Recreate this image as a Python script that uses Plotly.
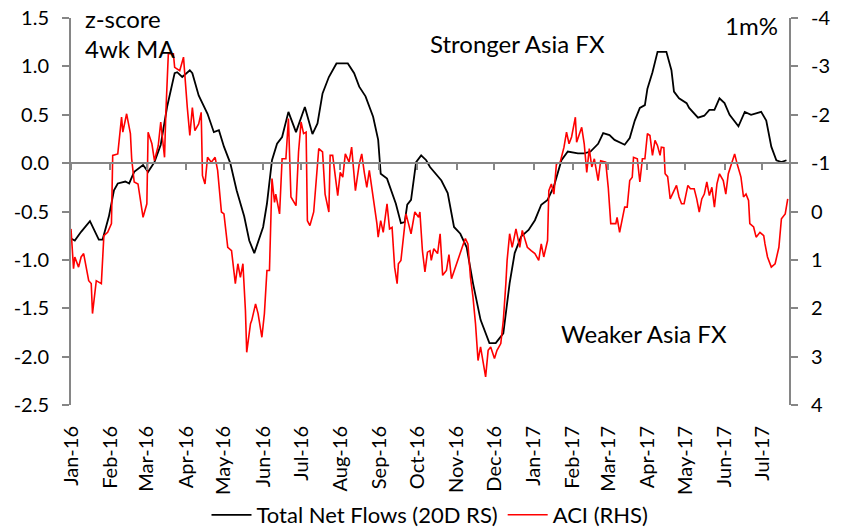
import plotly.graph_objects as go

# ---- Total Net Flows (20D RS), z-score 4wk MA (left axis) ----
flow_dates = [
    "2016-01-01", "2016-01-04", "2016-01-09", "2016-01-16", "2016-01-23", "2016-01-26",
    "2016-01-31", "2016-02-04", "2016-02-07", "2016-02-13", "2016-02-16", "2016-02-20",
    "2016-02-27", "2016-03-02", "2016-03-07", "2016-03-12", "2016-03-17", "2016-03-23",
    "2016-03-25", "2016-03-29", "2016-04-04", "2016-04-06", "2016-04-11", "2016-04-18",
    "2016-04-23", "2016-04-27", "2016-05-01", "2016-05-06", "2016-05-11", "2016-05-17",
    "2016-05-21", "2016-05-25", "2016-06-01", "2016-06-04", "2016-06-08", "2016-06-12",
    "2016-06-16", "2016-06-21", "2016-06-27", "2016-07-04", "2016-07-10", "2016-07-14",
    "2016-07-18", "2016-07-23", "2016-07-29", "2016-08-07", "2016-08-12", "2016-08-16",
    "2016-08-21", "2016-08-27", "2016-08-31", "2016-09-02", "2016-09-07", "2016-09-14",
    "2016-09-18", "2016-09-21", "2016-09-23", "2016-09-26", "2016-09-30", "2016-10-04",
    "2016-10-08", "2016-10-11", "2016-10-20", "2016-10-25", "2016-10-30", "2016-11-04",
    "2016-11-09", "2016-11-14", "2016-11-20", "2016-11-27", "2016-12-02", "2016-12-08",
    "2016-12-13", "2016-12-17", "2016-12-22", "2016-12-28", "2017-01-02", "2017-01-07",
    "2017-01-12", "2017-01-17", "2017-01-23", "2017-01-28", "2017-02-05", "2017-02-10",
    "2017-02-15", "2017-02-21", "2017-02-25", "2017-03-02", "2017-03-06", "2017-03-14",
    "2017-03-18", "2017-03-22", "2017-03-26", "2017-03-30", "2017-04-01", "2017-04-05",
    "2017-04-09", "2017-04-16", "2017-04-20", "2017-04-22", "2017-04-26", "2017-05-02",
    "2017-05-04", "2017-05-11", "2017-05-16", "2017-05-20", "2017-05-24", "2017-05-28",
    "2017-06-01", "2017-06-05", "2017-06-12", "2017-06-17", "2017-06-22", "2017-06-30",
    "2017-07-04", "2017-07-08", "2017-07-12", "2017-07-16", "2017-07-20",
]
flow_values = [
    -0.78, -0.80, -0.71, -0.60, -0.79, -0.79,
    -0.55, -0.28, -0.21, -0.19, -0.21, -0.09,
    -0.02, -0.09, 0.01, 0.19, 0.58, 0.93,
    0.94, 0.89, 0.96, 0.93, 0.70, 0.51,
    0.32, 0.34, 0.17, 0.00, -0.28, -0.55,
    -0.80, -0.93, -0.66, -0.42, 0.03, 0.20,
    0.27, 0.53, 0.32, 0.58, 0.30, 0.41,
    0.72, 0.89, 1.03, 1.03, 0.93, 0.79,
    0.69, 0.48, 0.24, -0.11, -0.16, -0.42,
    -0.62, -0.61, -0.43, -0.38, 0.01, 0.08,
    0.03, -0.04, -0.18, -0.31, -0.66, -0.73,
    -0.87, -1.24, -1.62, -1.86, -1.86, -1.76,
    -1.24, -0.93, -0.76, -0.69, -0.59, -0.43,
    -0.38, -0.24, 0.03, 0.12, 0.10, 0.10,
    0.12, 0.20, 0.31, 0.29, 0.24, 0.19,
    0.26, 0.44, 0.57, 0.60, 0.77, 0.94,
    1.15, 1.15, 0.96, 0.74, 0.67, 0.62,
    0.57, 0.47, 0.49, 0.55, 0.55, 0.67,
    0.62, 0.50, 0.38, 0.53, 0.50, 0.53,
    0.44, 0.17, 0.03, 0.01, 0.03,
]

# ---- ACI (RHS), 1m% (right axis, reversed) ----
aci_dates = [
    "2016-01-01", "2016-01-03", "2016-01-04", "2016-01-07", "2016-01-09", "2016-01-11",
    "2016-01-15", "2016-01-17", "2016-01-18", "2016-01-21", "2016-01-25", "2016-01-27",
    "2016-01-30", "2016-02-02", "2016-02-03", "2016-02-07", "2016-02-10", "2016-02-11",
    "2016-02-14", "2016-02-17", "2016-02-18", "2016-02-20", "2016-02-23", "2016-02-27",
    "2016-03-01", "2016-03-02", "2016-03-05", "2016-03-07", "2016-03-10", "2016-03-12",
    "2016-03-15", "2016-03-16", "2016-03-18", "2016-03-22", "2016-03-23", "2016-03-27",
    "2016-03-30", "2016-03-31", "2016-04-02", "2016-04-04", "2016-04-06", "2016-04-08",
    "2016-04-11", "2016-04-13", "2016-04-14", "2016-04-16", "2016-04-18", "2016-04-21",
    "2016-04-24", "2016-04-26", "2016-04-29", "2016-05-01", "2016-05-04", "2016-05-07",
    "2016-05-10", "2016-05-12", "2016-05-14", "2016-05-16", "2016-05-18", "2016-05-19",
    "2016-05-22", "2016-05-23", "2016-05-26", "2016-05-28", "2016-05-31", "2016-06-02",
    "2016-06-04", "2016-06-06", "2016-06-08", "2016-06-10", "2016-06-11", "2016-06-14",
    "2016-06-16", "2016-06-19", "2016-06-21", "2016-06-23", "2016-06-27", "2016-06-29",
    "2016-07-01", "2016-07-03", "2016-07-05", "2016-07-06", "2016-07-08", "2016-07-11",
    "2016-07-15", "2016-07-18", "2016-07-20", "2016-07-23", "2016-07-24", "2016-07-26",
    "2016-07-28", "2016-07-30", "2016-08-01", "2016-08-03", "2016-08-05", "2016-08-08",
    "2016-08-10", "2016-08-13", "2016-08-16", "2016-08-18", "2016-08-20", "2016-08-22",
    "2016-08-24", "2016-08-27", "2016-08-30", "2016-08-31", "2016-09-02", "2016-09-04",
    "2016-09-07", "2016-09-09", "2016-09-11", "2016-09-13", "2016-09-15", "2016-09-16",
    "2016-09-18", "2016-09-20", "2016-09-22", "2016-09-24", "2016-09-26", "2016-09-29",
    "2016-10-02", "2016-10-03", "2016-10-05", "2016-10-07", "2016-10-09", "2016-10-11",
    "2016-10-12", "2016-10-14", "2016-10-17", "2016-10-19", "2016-10-21", "2016-10-24",
    "2016-10-26", "2016-10-28", "2016-10-31", "2016-11-04", "2016-11-06", "2016-11-08",
    "2016-11-10", "2016-11-12", "2016-11-14", "2016-11-16", "2016-11-18", "2016-11-20",
    "2016-11-22", "2016-11-24", "2016-11-26", "2016-11-28", "2016-12-01", "2016-12-03",
    "2016-12-06", "2016-12-08", "2016-12-10", "2016-12-11", "2016-12-13", "2016-12-15",
    "2016-12-18", "2016-12-21", "2016-12-23", "2016-12-27", "2016-12-30", "2017-01-02",
    "2017-01-05", "2017-01-07", "2017-01-09", "2017-01-12", "2017-01-13", "2017-01-15",
    "2017-01-17", "2017-01-19", "2017-01-22", "2017-01-25", "2017-01-27", "2017-01-29",
    "2017-01-31", "2017-02-03", "2017-02-04", "2017-02-08", "2017-02-10", "2017-02-12",
    "2017-02-14", "2017-02-16", "2017-02-18", "2017-02-21", "2017-02-23", "2017-02-27",
    "2017-03-01", "2017-03-03", "2017-03-07", "2017-03-08", "2017-03-10", "2017-03-12",
    "2017-03-14", "2017-03-16", "2017-03-18", "2017-03-20", "2017-03-21", "2017-03-24",
    "2017-03-26", "2017-03-28", "2017-03-30", "2017-04-01", "2017-04-03", "2017-04-05",
    "2017-04-07", "2017-04-09", "2017-04-11", "2017-04-12", "2017-04-14", "2017-04-15",
    "2017-04-17", "2017-04-19", "2017-04-21", "2017-04-24", "2017-04-26", "2017-04-28",
    "2017-04-30", "2017-05-03", "2017-05-05", "2017-05-08", "2017-05-10", "2017-05-12",
    "2017-05-14", "2017-05-16", "2017-05-18", "2017-05-20", "2017-05-22", "2017-05-24",
    "2017-05-26", "2017-05-28", "2017-05-31", "2017-06-02", "2017-06-04", "2017-06-06",
    "2017-06-09", "2017-06-11", "2017-06-14", "2017-06-16", "2017-06-18", "2017-06-20",
    "2017-06-21", "2017-06-24", "2017-06-26", "2017-06-29", "2017-07-02", "2017-07-03",
    "2017-07-05", "2017-07-08", "2017-07-11", "2017-07-14", "2017-07-16", "2017-07-19",
    "2017-07-21",
]
aci_values = [
    0.36, 1.18, 0.94, 1.15, 0.94, 0.87,
    1.43, 1.49, 2.11, 1.43, 1.49, 0.50,
    0.43, 0.25, -1.16, -1.19, -1.95, -1.64,
    -2.02, -1.61, -1.09, -0.61, -0.57, 0.12,
    -0.16, -1.64, -1.40, -1.05, -1.36, -1.85,
    -1.12, -2.02, -3.26, -3.26, -2.98, -2.91,
    -3.19, -2.77, -2.15, -1.57, -2.15, -1.67,
    -1.81, -2.05, -0.74, -0.57, -1.12, -1.02,
    -1.12, -0.85, 0.01, 0.05, 0.74, 0.81,
    1.49, 1.08, 1.36, 1.08, 2.05, 2.91,
    2.32, 2.25, 1.91, 2.11, 2.60, 2.11,
    1.22, 1.22, -0.68, -0.19, -0.36, 0.05,
    -1.09, -1.09, -1.92, -0.30, -0.12, -1.23,
    -1.85, -1.61, -1.64, 0.19, 0.29, 0.01,
    -1.30, -1.23, -0.36, 0.01, -1.16, -1.16,
    -0.72, -0.33, -0.81, -0.71, -1.19, -1.02,
    -1.33, -0.43, -0.98, -1.19, -0.81, -0.50,
    -0.85, -0.33, 0.25, 0.53, 0.19, 0.43,
    -0.16, 0.36, 0.33, 1.15, 1.49, 1.08,
    1.01, 0.53, 0.05, 0.25, 0.46, 0.01,
    0.12, 0.01, 0.81, 1.25, 0.84, 0.81,
    1.01, 0.77, 0.87, 0.46, 1.32, 1.22,
    0.89, 1.39, 1.15, 0.84, 0.70, 0.56,
    0.67, 1.36, 1.77, 2.32, 3.08, 2.80,
    3.15, 3.42, 2.87, 2.80, 3.04, 2.87,
    2.73, 2.25, 1.49, 1.01, 0.46, 0.74,
    0.36, 0.74, 0.39, 0.74, 0.81, 0.87,
    1.01, 0.67, 0.94, 0.60, -0.43, -0.57,
    -0.36, -0.98, -1.02, -1.33, -1.64, -1.40,
    -1.54, -1.95, -1.43, -1.74, -1.40, -0.81,
    -1.30, -0.92, -1.09, -0.64, -1.05, -1.02,
    -0.50, 0.25, 0.25, 0.12, 0.43, 0.19,
    -0.09, -0.09, -0.64, -0.71, -1.12, -1.09,
    -0.61, -1.09, -1.09, -1.61, -1.57, -1.16,
    -1.47, -1.36, -1.16, -1.33, -1.32, -0.78,
    -0.72, -0.26, -0.36, -0.54, -0.30, -0.16,
    -0.16, -0.54, -0.47, -0.47, -0.26, 0.01,
    -0.26, -0.36, -0.61, -0.33, -0.50, -0.09,
    -0.57, -0.78, -0.64, -0.36, -0.78, -0.95,
    -1.19, -0.98, -0.71, -0.30, -0.36, -0.23,
    0.25, 0.32, 0.53, 0.43, 0.50, 0.67,
    0.94, 1.15, 1.08, 0.74, 0.15, 0.05,
    -0.26,
]

# ---- axis ticks / labels ----
left_tickvals = [-2.5, -2.0, -1.5, -1.0, -0.5, 0.0, 0.5, 1.0, 1.5]
left_ticktext = ["-2.5", "-2.0", "-1.5", "-1.0", "-0.5", "0.0", "0.5", "1.0", "1.5"]
right_tickvals = [-4, -3, -2, -1, 0, 1, 2, 3, 4]
right_ticktext = ["-4", "-3", "-2", "-1", "0", "1", "2", "3", "4"]
x_range = ["2016-01-01", "2017-07-22"]

FONT = "Lato"
GREY = "#868686"
TICK_SIZE = 20
TEXT_SIZE = 24

fig = go.Figure()
fig.add_trace(go.Scatter(
    x=flow_dates, y=flow_values, mode="lines", name="Total Net Flows (20D RS)",
    line=dict(color="#000000", width=1.8), xaxis="x", yaxis="y",
))
fig.add_trace(go.Scatter(
    x=aci_dates, y=aci_values, mode="lines", name="ACI (RHS)",
    line=dict(color="#FF0000", width=1.6), xaxis="x2", yaxis="y2",
))

fig.update_layout(
    width=845, height=530,
    margin=dict(l=71, r=56, t=18, b=125, autoexpand=False),
    paper_bgcolor="white", plot_bgcolor="white",
    font=dict(family=FONT, size=TICK_SIZE, color="#000000"),
    showlegend=True,
    legend=dict(orientation="h", x=0.5, xanchor="center", xref="paper",
                y=15 / 530, yanchor="middle", yref="container",
                font=dict(family=FONT, size=22), itemwidth=40, bgcolor="rgba(0,0,0,0)"),
    xaxis=dict(
        type="date", range=x_range, showline=False, showgrid=False, zeroline=False,
        ticks="", tickformat="%b-%y", dtick="M1", tick0="2016-01-01",
        tickangle=-90, ticklabelstandoff=16, tickfont=dict(size=TICK_SIZE),
        anchor="y", automargin=False,
    ),
    xaxis2=dict(
        type="date", overlaying="x", matches="x", anchor="free", position=0.625,
        showline=True, linecolor=GREY, linewidth=2, showgrid=False, zeroline=False,
        ticks="outside", ticklen=6, tickwidth=2, tickcolor=GREY,
        dtick="M1", tick0="2016-01-01", showticklabels=False,
    ),
    yaxis=dict(
        range=[-2.5, 1.5], tickvals=left_tickvals, ticktext=left_ticktext,
        showline=True, linecolor=GREY, linewidth=2, ticks="outside", ticklen=7,
        tickwidth=2, tickcolor=GREY, showgrid=False, zeroline=False,
        tickfont=dict(size=TICK_SIZE), ticklabelposition="outside",
        ticklabelstandoff=9, anchor="x", automargin=False,
    ),
    yaxis2=dict(
        range=[4, -4], tickvals=right_tickvals, ticktext=right_ticktext,
        overlaying="y", side="right", anchor="x2",
        showline=True, linecolor=GREY, linewidth=2, ticks="outside", ticklen=7,
        tickwidth=2, tickcolor=GREY, showgrid=False, zeroline=False,
        tickfont=dict(size=TICK_SIZE), ticklabelposition="outside",
        ticklabelstandoff=9, automargin=False,
    ),
    annotations=[
        dict(text="z-score", xref="paper", yref="paper", x=0.017, y=1.0,
             xanchor="left", yanchor="middle", showarrow=False, font=dict(size=TEXT_SIZE)),
        dict(text="4wk MA", xref="paper", yref="paper", x=0.017, y=0.92,
             xanchor="left", yanchor="middle", showarrow=False, font=dict(size=TEXT_SIZE)),
        dict(text="Stronger Asia FX", xref="paper", yref="paper", x=0.497, y=0.933,
             xanchor="left", yanchor="middle", showarrow=False, font=dict(size=TEXT_SIZE)),
        dict(text="1m%", xref="paper", yref="paper", x=0.987, y=0.98,
             xanchor="right", yanchor="middle", showarrow=False, font=dict(size=TEXT_SIZE)),
        dict(text="Weaker Asia FX", xref="paper", yref="paper", x=0.680, y=0.186,
             xanchor="left", yanchor="middle", showarrow=False, font=dict(size=TEXT_SIZE)),
    ],
)

fig.write_html("out.html", config={"displayModeBar": False},
               post_script="document.body.style.margin='0';")
